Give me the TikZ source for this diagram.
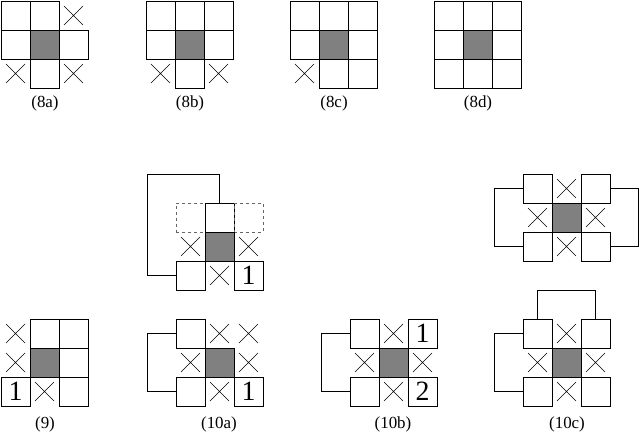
\documentclass[tikz,border=0pt]{standalone}
\usepackage{fontspec}
\setmainfont{Liberation Serif}
\tikzset{
 base/.style={minimum size=29bp,inner sep=0pt,outer sep=0pt},
 cb/.style={base,draw,line width=0.6bp},
 sb/.style={base,draw,line width=0.9bp,fill=black!50},
 db/.style={base,draw=black!60,dashed,line width=0.6bp},
 xb/.style={base,path picture={\draw[line width=0.6bp] ([shift={(5bp,5bp)}]path picture bounding box.south west)--([shift={(-5bp,-5bp)}]path picture bounding box.north east) ([shift={(5bp,-5bp)}]path picture bounding box.north west)--([shift={(-5bp,5bp)}]path picture bounding box.south east);}},
 nb/.style={cb,font=\fontsize{28}{28}\selectfont},
 lab/.style={font=\fontsize{17}{17}\selectfont},
 wire/.style={line width=0.6bp}
}
\newcommand\K[5]{\node[#1] (#2) at (#3+14.5,#4+14.5) {#5};}
\begin{document}
\begin{tikzpicture}[x=1bp,y=-1bp]
\useasboundingbox (0,0) rectangle (640,438);
% 8a
\K{cb}{a1}{1}{1}{}\K{cb}{a2}{30}{1}{}\K{xb}{a3}{59}{1}{}
\K{cb}{a4}{1}{30}{}\K{sb}{a5}{30}{30}{}\K{cb}{a6}{59}{30}{}
\K{xb}{a7}{1}{59}{}\K{cb}{a8}{30}{59}{}\K{xb}{a9}{59}{59}{}
\node[lab] (la) at (45,103) {(8a)};
% 8b
\K{cb}{b1}{146}{1}{}\K{cb}{b2}{175}{1}{}\K{cb}{b3}{204}{1}{}
\K{cb}{b4}{146}{30}{}\K{sb}{b5}{175}{30}{}\K{cb}{b6}{204}{30}{}
\K{xb}{b7}{146}{59}{}\K{cb}{b8}{175}{59}{}\K{xb}{b9}{204}{59}{}
\node[lab] (lb) at (190,103) {(8b)};
% 8c
\K{cb}{c1}{290}{1}{}\K{cb}{c2}{319}{1}{}\K{cb}{c3}{348}{1}{}
\K{cb}{c4}{290}{30}{}\K{sb}{c5}{319}{30}{}\K{cb}{c6}{348}{30}{}
\K{xb}{c7}{290}{59}{}\K{cb}{c8}{319}{59}{}\K{cb}{c9}{348}{59}{}
\node[lab] (lc) at (334,103) {(8c)};
% 8d
\K{cb}{d1}{434}{1}{}\K{cb}{d2}{463}{1}{}\K{cb}{d3}{492}{1}{}
\K{cb}{d4}{434}{30}{}\K{sb}{d5}{463}{30}{}\K{cb}{d6}{492}{30}{}
\K{cb}{d7}{434}{59}{}\K{cb}{d8}{463}{59}{}\K{cb}{d9}{492}{59}{}
\node[lab] (ld) at (478,103) {(8d)};
% 10a upper
\K{db}{e1}{176}{203}{}\K{cb}{e2}{205}{203}{}\K{db}{e3}{234}{203}{}
\K{xb}{e4}{176}{232}{}\K{sb}{e5}{205}{232}{}\K{xb}{e6}{234}{232}{}
\K{cb}{e7}{176}{261}{}\K{xb}{e8}{205}{261}{}\K{nb}{e9}{234}{261}{1}
\draw[wire] (e2.north) -- ++(0,-29) -| (147,275.5) -- (e7.west);
% 10c upper
\K{cb}{f1}{523}{174}{}\K{xb}{f2}{552}{174}{}\K{cb}{f3}{581}{174}{}
\K{xb}{f4}{523}{203}{}\K{sb}{f5}{552}{203}{}\K{xb}{f6}{581}{203}{}
\K{cb}{f7}{523}{232}{}\K{xb}{f8}{552}{232}{}\K{cb}{f9}{581}{232}{}
\draw[wire] (f1.west) -- ++(-29,0) |- (f7.west);
\draw[wire] (f3.east) -- ++(28,0) |- (f9.east);
% 9
\K{xb}{g1}{1}{319}{}\K{cb}{g2}{30}{319}{}\K{cb}{g3}{59}{319}{}
\K{xb}{g4}{1}{348}{}\K{sb}{g5}{30}{348}{}\K{cb}{g6}{59}{348}{}
\K{nb}{g7}{1}{377}{1}\K{xb}{g8}{30}{377}{}\K{cb}{g9}{59}{377}{}
\node[lab] (lg) at (45,424) {(9)};
% 10a
\K{cb}{h1}{176}{319}{}\K{xb}{h2}{205}{319}{}\K{xb}{h3}{234}{319}{}
\K{xb}{h4}{176}{348}{}\K{sb}{h5}{205}{348}{}\K{xb}{h6}{234}{348}{}
\K{cb}{h7}{176}{377}{}\K{xb}{h8}{205}{377}{}\K{nb}{h9}{234}{377}{1}
\draw[wire] (h1.west) -- ++(-29,0) |- (h7.west);
\node[lab] (lh) at (219,424) {(10a)};
% 10b
\K{cb}{i1}{350}{319}{}\K{xb}{i2}{379}{319}{}\K{nb}{i3}{408}{319}{1}
\K{xb}{i4}{350}{348}{}\K{sb}{i5}{379}{348}{}\K{xb}{i6}{408}{348}{}
\K{cb}{i7}{350}{377}{}\K{xb}{i8}{379}{377}{}\K{nb}{i9}{408}{377}{2}
\draw[wire] (i1.west) -- ++(-29,0) |- (i7.west);
\node[lab] (li) at (393,424) {(10b)};
% 10c
\K{cb}{j1}{523}{319}{}\K{xb}{j2}{552}{319}{}\K{cb}{j3}{581}{319}{}
\K{xb}{j4}{523}{348}{}\K{sb}{j5}{552}{348}{}\K{xb}{j6}{581}{348}{}
\K{cb}{j7}{523}{377}{}\K{xb}{j8}{552}{377}{}\K{cb}{j9}{581}{377}{}
\draw[wire] (j1.west) -- ++(-29,0) |- (j7.west);
\draw[wire] (j1.north) -- ++(0,-29) -| (j3.north);
\node[lab] (lj) at (567,424) {(10c)};
\end{tikzpicture}
\end{document}
